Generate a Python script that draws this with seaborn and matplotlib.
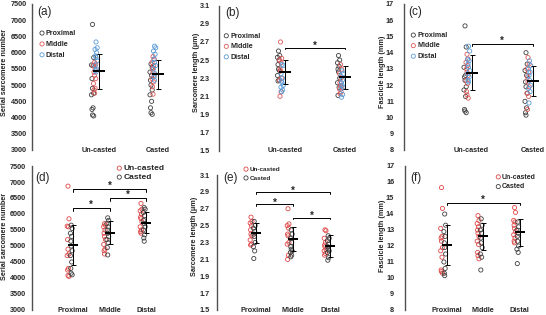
import numpy as np
import pandas as pd
import matplotlib
matplotlib.use('Agg')
import matplotlib.pyplot as plt
import seaborn as sns
from matplotlib.ticker import FormatStrFormatter

sns.set_style('white')
plt.rcParams['font.family'] = ['Liberation Sans', 'DejaVu Sans']

# ---- data ----
regions = ['Proximal', 'Middle', 'Distal']
casts = ['Un-casted', 'Casted']

# serial sarcomere number
ssn_unc_prox = [6870, 5850, 5620, 5600, 5200, 4900, 4750, 4700, 4300, 4250, 4080, 4050]
ssn_unc_mid = [5700, 5650, 5600, 5500, 5400, 5300, 5200, 5050, 4900, 4850, 4750]
ssn_unc_dist = [6330, 6150, 6100, 6000, 5900, 5850, 5750, 5600, 5500, 5450, 5400]
ssn_cas_prox = [5650, 5550, 5400, 5300, 5150, 5000, 4850, 4700, 4500, 4300, 4150, 4100]
ssn_cas_mid = [5880, 5800, 5700, 5600, 5500, 5400, 5300, 5200, 5100, 4950, 4720]
ssn_cas_dist = [6200, 6150, 6050, 5950, 5800, 5700, 5600, 5500, 5350, 5250, 5150]
ssn_cast_mean = [5430, 5330]
ssn_cast_sd = [540, 450]
ssn_region_mean = [5040, 5410, 5730]
ssn_region_sd = [630, 360, 330]

# sarcomere length (um)
sl_unc_prox = [2.60, 2.55, 2.53, 2.50, 2.45, 2.40, 2.38, 2.33, 2.28, 2.27]
sl_unc_mid = [2.70, 2.52, 2.50, 2.47, 2.40, 2.38, 2.30, 2.28, 2.15, 2.10]
sl_unc_dist = [2.45, 2.44, 2.35, 2.30, 2.27, 2.25, 2.22, 2.20, 2.17, 2.15]
sl_cas_prox = [2.55, 2.50, 2.47, 2.43, 2.40, 2.37, 2.30, 2.25, 2.20, 2.11]
sl_cas_mid = [2.45, 2.40, 2.35, 2.30, 2.25, 2.22, 2.20, 2.18, 2.15, 2.13]
sl_cas_dist = [2.38, 2.35, 2.32, 2.28, 2.25, 2.22, 2.20, 2.18, 2.12, 2.09]
sl_cast_mean = [2.37, 2.31]
sl_cast_sd = [0.13, 0.125]
sl_region_mean = [2.41, 2.34, 2.26]
sl_region_sd = [0.12, 0.14, 0.13]

# fascicle length (mm)
fl_unc_prox = [15.65, 14.35, 13.1, 12.6, 12.5, 12.3, 11.9, 11.7, 11.3, 10.5, 10.4, 10.3]
fl_unc_mid = [13.9, 13.6, 13.4, 13.2, 13.0, 12.8, 12.6, 12.3, 12.1, 11.6, 11.4, 11.2]
fl_unc_dist = [14.4, 14.1, 13.6, 13.5, 13.3, 13.1, 12.9, 12.7, 12.5, 12.3, 12.2]
fl_cas_prox = [14.0, 13.3, 12.9, 12.6, 12.2, 11.9, 11.5, 11.0, 10.6, 10.3, 10.15]
fl_cas_mid = [13.7, 13.3, 13.0, 12.8, 12.5, 12.2, 11.9, 11.5, 11.3, 10.5]
fl_cas_dist = [13.5, 13.2, 13.0, 12.8, 12.6, 12.3, 12.0, 11.8, 11.6, 10.9]
fl_cast_mean = [12.76, 12.25]
fl_cast_sd = [1.08, 0.93]
fl_region_mean = [12.06, 12.6, 12.85]
fl_region_sd = [1.25, 0.85, 0.85]

# significance brackets (group a, group b, height)
sl_cast_sig = [(0, 1, 2.636)]
fl_cast_sig = [(0, 1, 14.53)]
ssn_region_sig = [(0, 2, 6770), (1, 2, 6490), (0, 1, 6180)]
sl_region_sig = [(0, 2, 2.895), (0, 1, 2.753), (1, 2, 2.594)]
fl_region_sig = [(0, 2, 14.71)]


def long_df(up, um, ud, cp, cm, cd):
    rows = []
    for c, r, vals in [('Un-casted', 'Proximal', up), ('Un-casted', 'Middle', um),
                       ('Un-casted', 'Distal', ud), ('Casted', 'Proximal', cp),
                       ('Casted', 'Middle', cm), ('Casted', 'Distal', cd)]:
        for i, v in enumerate(vals):
            rows.append((c, r, i, v))
    return pd.DataFrame(rows, columns=['cast', 'region', 'idx', 'value'])


ssn_df = long_df(ssn_unc_prox, ssn_unc_mid, ssn_unc_dist, ssn_cas_prox, ssn_cas_mid, ssn_cas_dist)
sl_df = long_df(sl_unc_prox, sl_unc_mid, sl_unc_dist, sl_cas_prox, sl_cas_mid, sl_cas_dist)
fl_df = long_df(fl_unc_prox, fl_unc_mid, fl_unc_dist, fl_cas_prox, fl_cas_mid, fl_cas_dist)

region_colors = {'Proximal': '#404040', 'Middle': '#e05a5a', 'Distal': '#5b9bd5'}
cast_colors = {'Un-casted': '#e04848', 'Casted': '#404040'}
jit = np.array([0.0, 1.2, -1.0, 0.6, -0.5])

W, H = 546, 315
fig = plt.figure(figsize=(W / 100, H / 100), dpi=100)
PX = 72 / 100  # points per pixel
FS = 5.2


def make_ax(left, top, right, bottom, c0, s):
    ax = fig.add_axes([left / W, 1 - bottom / H, (right - left) / W, (bottom - top) / H])
    ax.set_xlim((left - c0) / s, (right - c0) / s)
    return ax


def style_ax(ax, ylim, step, fmt, cats, pad_px):
    ax.set_ylim(*ylim)
    ax.set_yticks(np.arange(ylim[0], ylim[1] + step / 2, step))
    ax.yaxis.set_major_formatter(FormatStrFormatter(fmt))
    ax.set_xticks(range(len(cats)))
    ax.set_xticklabels(cats, fontweight='bold', va='center', fontsize=FS)
    ax.tick_params(axis='x', length=0, pad=0)
    ax.tick_params(axis='y', length=0, pad=pad_px * PX, labelsize=FS)
    for lab in ax.get_yticklabels():
        lab.set_fontweight('bold')
    sns.despine(ax=ax, bottom=True)
    ax.spines['left'].set_color('#505050')
    ax.spines['left'].set_linewidth(1.0)
    ax.set_xlabel('')
    ax.set_ylabel('')


def draw_stats(ax, means, sds, bar_px):
    xs = np.arange(len(means))
    ax.errorbar(xs, means, yerr=sds, fmt='none', ecolor='black',
                elinewidth=0.7, capsize=1.8, capthick=0.7, zorder=4)
    ax.plot(xs, means, ls='none', marker='_', ms=bar_px * PX, mew=2.0 * PX,
            color='black', zorder=5)


def draw_sig(ax, sig, bottom_px, top_px):
    lo, hi = ax.get_ylim()
    upp = (hi - lo) / (bottom_px - top_px)
    for a, b, y in sig:
        ax.plot([a, a, b, b], [y - 3.5 * upp, y, y, y - 3.5 * upp],
                color='black', lw=0.7)
        ax.text((a + b) / 2, y + 4.5 * upp, '*', ha='center', va='center',
                fontsize=7, fontweight='bold')


def add_legend(ax, mx, ry, fs, spacing_px):
    fs_px = fs / PX
    th = fs_px * 1.15
    hl = 0.8
    ax.legend(loc='upper left', frameon=False, scatterpoints=1,
              bbox_to_anchor=((mx - hl * fs_px / 2) / W, 1 - (ry - th / 2) / H),
              bbox_transform=fig.transFigure, prop={'weight': 'bold', 'size': fs},
              handlelength=hl, handletextpad=0.15, borderpad=0, borderaxespad=0,
              labelspacing=max(spacing_px - th, 0) / fs_px)


def top_panel(df, rect, c0, s, means, sds, sig):
    left, top, right, bottom = rect
    ax = make_ax(left, top, right, bottom, c0, s)
    off = {'Proximal': -6.5, 'Middle': -4.5, 'Distal': -3.0}
    for ci, c in enumerate(casts):
        for r in regions:
            d = df[(df.cast == c) & (df.region == r)]
            x = ci + (off[r] + jit[d.idx.values % 5]) / s
            sns.scatterplot(x=x, y=d.value.values, ax=ax, color=region_colors[r],
                            facecolor='none', edgecolor=region_colors[r], s=9,
                            linewidth=0.6, label=r if ci == 0 else None, zorder=3)
    draw_stats(ax, means, sds, 12)
    draw_sig(ax, sig, bottom, top)
    return ax


def bottom_panel(df, rect, c0, s, means, sds, sig):
    left, top, right, bottom = rect
    ax = make_ax(left, top, right, bottom, c0, s)
    off = {'Un-casted': -5.0, 'Casted': -1.8}
    for c in casts:
        for ri, r in enumerate(regions):
            d = df[(df.cast == c) & (df.region == r)]
            x = ri + (off[c] + jit[d.idx.values % 5] * 0.8) / s
            sns.scatterplot(x=x, y=d.value.values, ax=ax, color=cast_colors[c],
                            facecolor='none', edgecolor=cast_colors[c], s=9,
                            linewidth=0.6, label=c if ri == 0 else None, zorder=3)
    draw_stats(ax, means, sds, 10)
    draw_sig(ax, sig, bottom, top)
    return ax


# ---- top row: by casting ----
ax_a = top_panel(ssn_df, (32, 4, 182, 150), 99, 58.5, ssn_cast_mean, ssn_cast_sd, [])
style_ax(ax_a, (3000, 7500), 500, '%d', casts, 5)
add_legend(ax_a, 42, 34, 5.1, 12)

ax_b = top_panel(sl_df, (219, 5.7, 364, 150.7), 285, 60, sl_cast_mean, sl_cast_sd, sl_cast_sig)
style_ax(ax_b, (1.5, 3.1), 0.2, '%.1f', casts, 9)
add_legend(ax_b, 226.3, 36.7, 5.1, 11.7)

ax_c = top_panel(fl_df, (404, 4, 546, 150), 471.5, 61, fl_cast_mean, fl_cast_sd, fl_cast_sig)
style_ax(ax_c, (8, 17), 1, '%d', casts, 10)
add_legend(ax_c, 413.3, 36, 5.1, 11.7)

# ---- bottom row: by region ----
ax_d = bottom_panel(ssn_df, (32, 166, 182, 310), 73, 36.5, ssn_region_mean, ssn_region_sd, ssn_region_sig)
style_ax(ax_d, (3000, 7500), 500, '%d', regions, 6)
add_legend(ax_d, 119.3, 169.3, 6.0, 10.7)

ax_e = bottom_panel(sl_df, (217, 175, 364, 310), 256, 37, sl_region_mean, sl_region_sd, sl_region_sig)
style_ax(ax_e, (1.5, 3.1), 0.2, '%.1f', regions, 7)
add_legend(ax_e, 246, 170, 4.6, 10.7)

ax_f = bottom_panel(fl_df, (404.7, 166, 546, 310), 446.5, 36.5, fl_region_mean, fl_region_sd, fl_region_sig)
style_ax(ax_f, (8, 17), 1, '%d', regions, 10.5)
add_legend(ax_f, 498.3, 177.7, 5.0, 10.7)

# axis titles and panel letters
ylabels = [('Serial sarcomere number', 5, 72), ('Sarcomere length (\u03bcm)', 196, 72),
           ('Fascicle length (mm)', 382, 72), ('Serial sarcomere number', 5, 236),
           ('Sarcomere length (\u03bcm)', 195, 236), ('Fascicle length (mm)', 382, 236)]
for txt, x, y in ylabels:
    fig.text(x / W, 1 - y / H, txt, rotation=90, ha='center', va='center',
             fontsize=FS, fontweight='bold')

letters = [('(a)', 44.5, 12.3), ('(b)', 232, 12.7), ('(c)', 415.5, 12),
           ('(d)', 43, 177.7), ('(e)', 231, 178.3), ('(f)', 416, 177.7)]
for txt, x, y in letters:
    fig.text(x / W, 1 - y / H, txt, ha='center', va='center', fontsize=8.5)

fig.savefig('out.png', dpi=100)
